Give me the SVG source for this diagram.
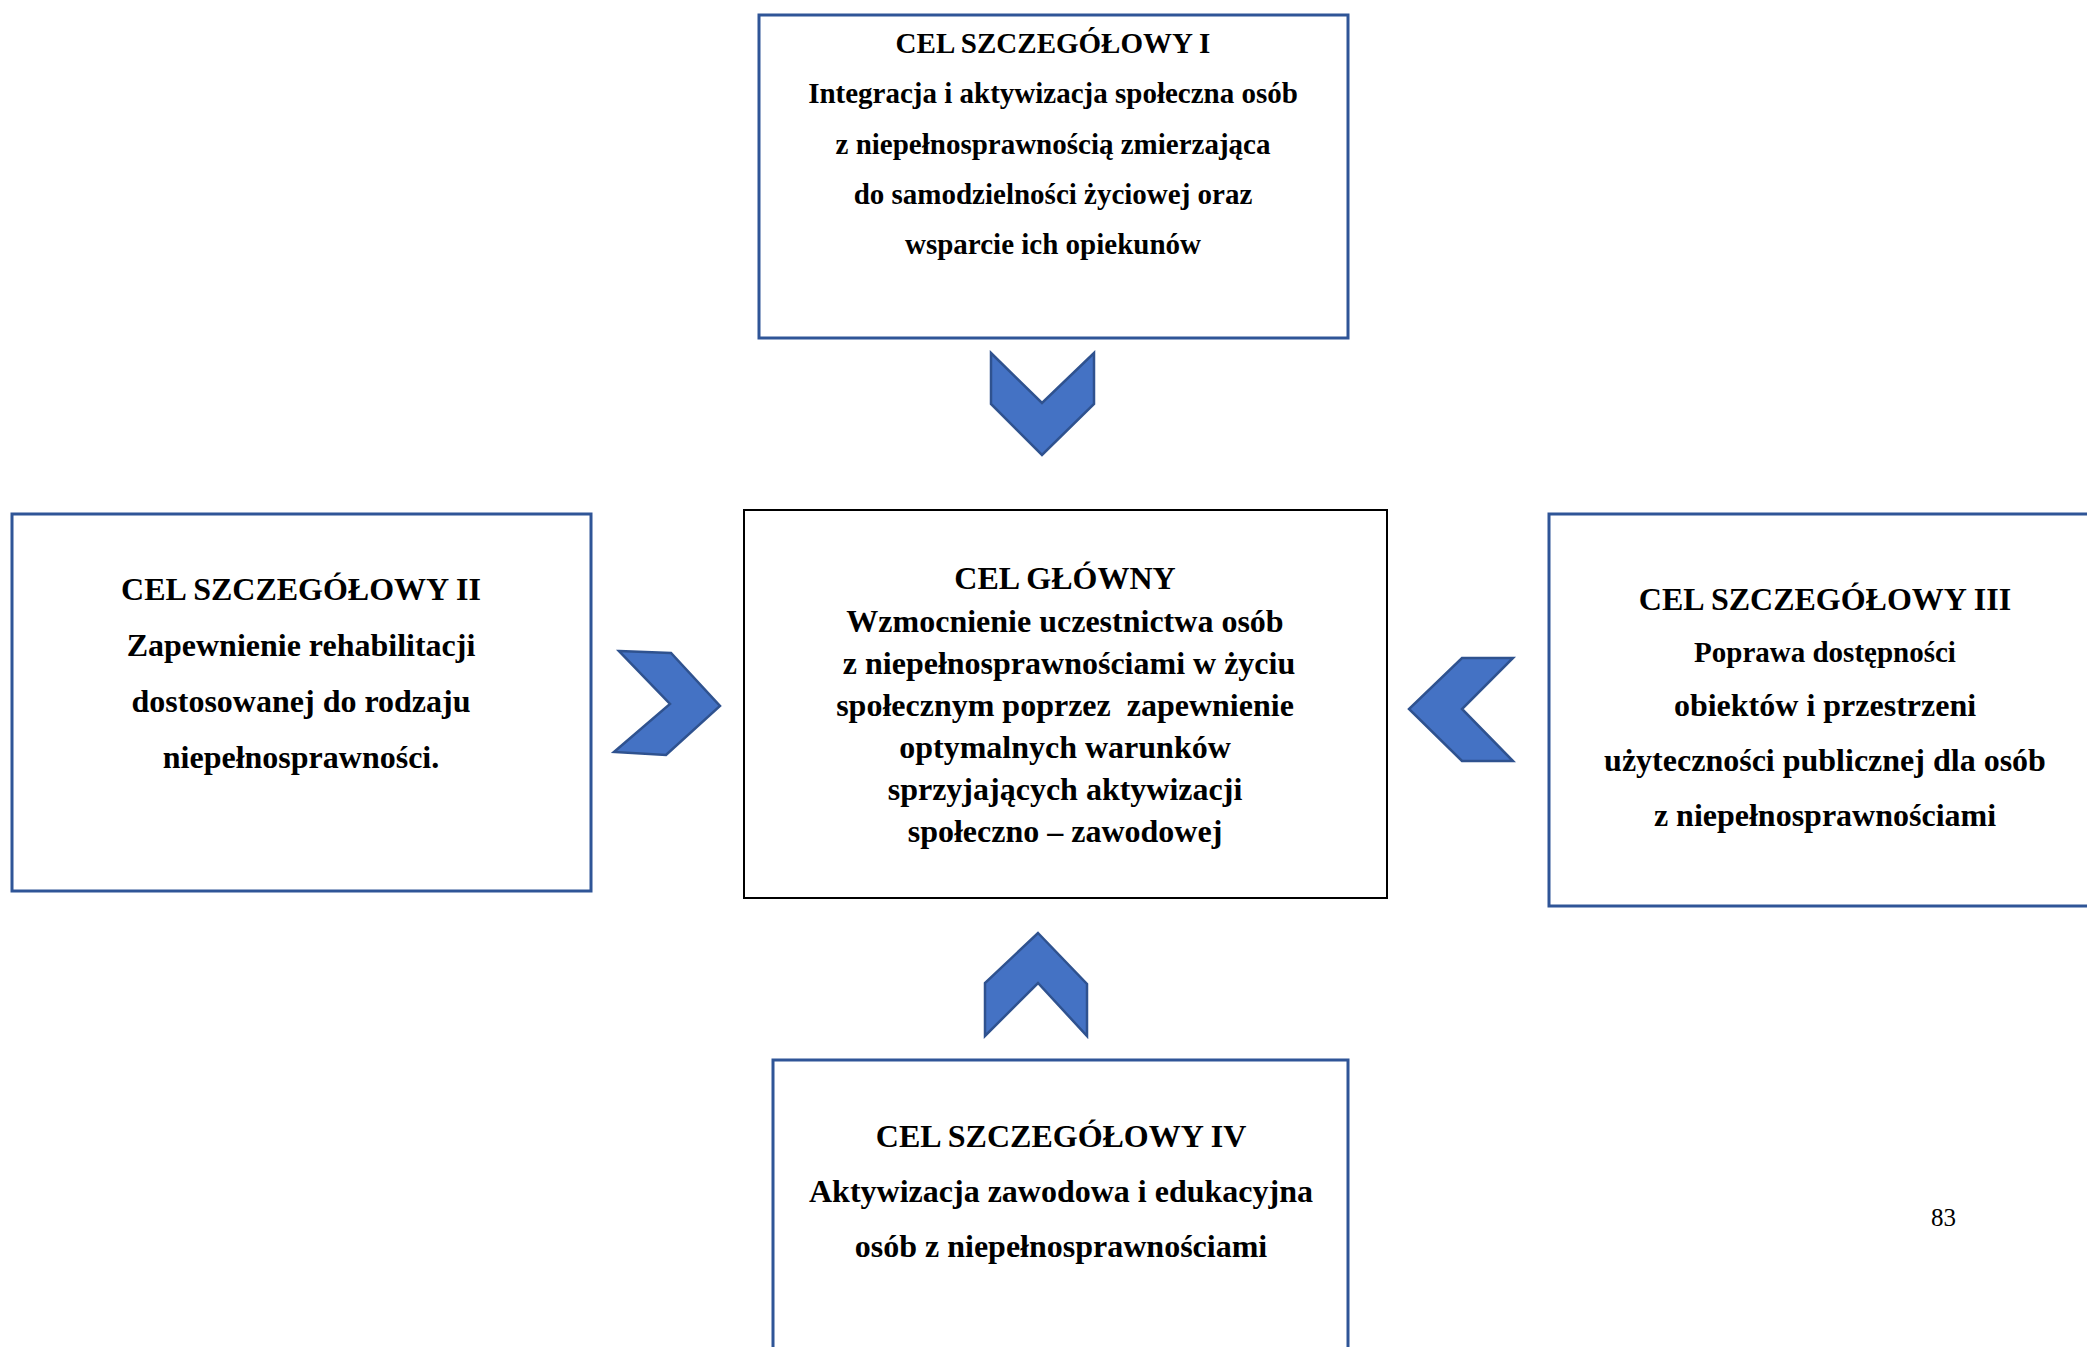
<svg xmlns="http://www.w3.org/2000/svg" width="2087" height="1347" viewBox="0 0 2087 1347">
<style>
.box{fill:#fff;stroke:#2F5597;stroke-width:3}
.main{fill:#fff;stroke:#000;stroke-width:2}
.chev{fill:#4472C4;stroke:#2F528F;stroke-width:2.5;stroke-linejoin:miter}
text{font-family:"Liberation Serif","Times New Roman",serif;font-weight:bold;fill:#000;text-anchor:middle;white-space:pre}
.t29{font-size:29px}
.t32{font-size:32px}
.pg{font-size:25px;font-weight:normal;text-anchor:start}
</style>
<rect width="2087" height="1347" fill="#fff"/>
<g id="connectors">
<polygon class="chev" points="991,353 1042,403 1094,353 1094,404 1042,455 991,404"/>
<polygon class="chev" points="619,651 671,653 720,706 666,755 614,752 670,704"/>
<polygon class="chev" points="1462,658 1513,658 1462,709 1513,761 1462,761 1409,709"/>
<polygon class="chev" points="1038,933 1087,984 1087,1036 1038,983 985,1036 985,983"/>
</g>
<g id="node-cel1">
<rect class="box" x="759" y="15" width="589" height="323"/>
<text class="t29" x="1053" y="53">CEL SZCZEGÓŁOWY I</text>
<text class="t29" x="1053" y="103">Integracja i aktywizacja społeczna osób</text>
<text class="t29" x="1053" y="154">z niepełnosprawnością zmierzająca</text>
<text class="t29" x="1053" y="204">do samodzielności życiowej oraz</text>
<text class="t29" x="1053" y="254">wsparcie ich opiekunów</text>
</g>
<g id="node-cel2">
<rect class="box" x="12" y="514" width="579" height="377"/>
<text class="t32" x="301" y="600">CEL SZCZEGÓŁOWY II</text>
<text class="t32" x="301" y="656">Zapewnienie rehabilitacji</text>
<text class="t32" x="301" y="712">dostosowanej do rodzaju</text>
<text class="t32" x="301" y="768">niepełnosprawności.</text>
</g>
<g id="node-main">
<rect class="main" x="744" y="510" width="643" height="388"/>
<text class="t32" x="1065" y="589">CEL GŁÓWNY</text>
<text class="t32" x="1065" y="632">Wzmocnienie uczestnictwa osób</text>
<text class="t32" x="1065" y="674"> z niepełnosprawnościami w życiu</text>
<text class="t32" x="1065" y="716">społecznym poprzez  zapewnienie</text>
<text class="t32" x="1065" y="758">optymalnych warunków</text>
<text class="t32" x="1065" y="800">sprzyjających aktywizacji</text>
<text class="t32" x="1065" y="842">społeczno – zawodowej</text>
</g>
<g id="node-cel3">
<rect class="box" x="1549" y="514" width="560" height="392"/>
<text class="t32" x="1825" y="610">CEL SZCZEGÓŁOWY III</text>
<text class="t29" x="1825" y="662">Poprawa dostępności</text>
<text class="t32" x="1825" y="716">obiektów i przestrzeni</text>
<text class="t32" x="1825" y="771">użyteczności publicznej dla osób</text>
<text class="t32" x="1825" y="826">z niepełnosprawnościami</text>
</g>
<g id="node-cel4">
<rect class="box" x="773" y="1060" width="575" height="320"/>
<text class="t32" x="1061" y="1147">CEL SZCZEGÓŁOWY IV</text>
<text class="t32" x="1061" y="1202">Aktywizacja zawodowa i edukacyjna</text>
<text class="t32" x="1061" y="1257">osób z niepełnosprawnościami</text>
</g>
<text class="pg" x="1931" y="1226">83</text>
</svg>
